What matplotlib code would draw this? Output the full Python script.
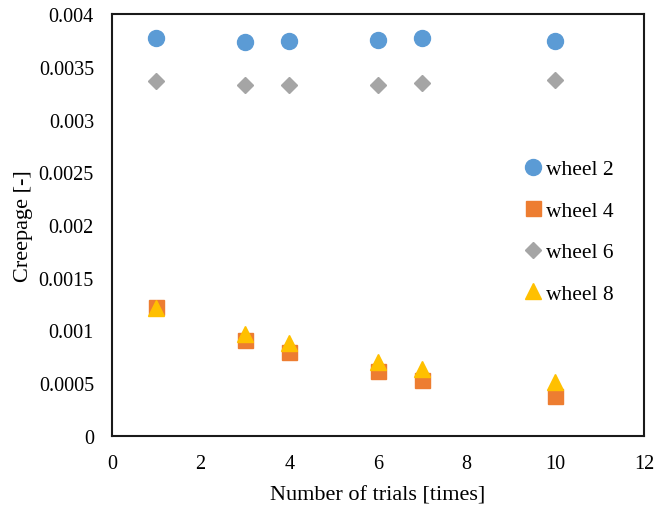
import numpy as np
import matplotlib
matplotlib.use('Agg')
import matplotlib.pyplot as plt

plt.rcParams['font.family'] = ['Liberation Serif', 'DejaVu Serif']

# Trials on the x axis
trials = [1, 3, 4, 6, 7, 10]

# Creepage for each wheel
wheel2 = [0.003770, 0.003738, 0.003744, 0.003757, 0.003773, 0.003747]
wheel4 = [0.001226, 0.000913, 0.000799, 0.000613, 0.000534, 0.000379]
wheel6 = [0.003368, 0.003327, 0.003327, 0.003327, 0.003349, 0.003371]
wheel8 = [0.001213, 0.000967, 0.000879, 0.000704, 0.000632, 0.000515]

x_ticks = [0, 2, 4, 6, 8, 10, 12]
y_ticks = [0, 0.0005, 0.001, 0.0015, 0.002, 0.0025, 0.003, 0.0035, 0.004]
y_labels = ['0', '0.0005', '0.001', '0.0015', '0.002', '0.0025', '0.003', '0.0035', '0.004']

fig = plt.figure(figsize=(6.55, 5.06), dpi=100)
ax = fig.add_axes([112 / 655, 69 / 506, 532 / 655, 422 / 506])

ax.plot(trials, wheel2, 'o', color='#5B9BD5', markersize=11.5, label='wheel 2', linestyle='none')
ax.plot(trials, wheel4, 's', color='#ED7D31', markersize=10.8, label='wheel 4', linestyle='none')
ax.plot(trials, wheel6, 'D', color='#A5A5A5', markersize=8.2, label='wheel 6', linestyle='none')
ax.plot(trials, wheel8, '^', color='#FFC000', markersize=11.3, label='wheel 8', linestyle='none')

ax.set_xlim(0, 12)
ax.set_ylim(0, 0.004)
ax.set_xticks(x_ticks)
ax.set_yticks(y_ticks)
ax.set_yticklabels(y_labels)
ax.tick_params(labelsize=14.5, length=0, pad=13)

for s in ax.spines.values():
    s.set_linewidth(1.5)
    s.set_color('#1a1a1a')

ax.set_xlabel('Number of trials [times]', fontsize=16, labelpad=9)
ax.set_ylabel('Creepage [-]', fontsize=16, labelpad=4)

ax.legend(loc='center left', bbox_to_anchor=(0.771, 0.4846), frameon=False, fontsize=15.5,
          handletextpad=0.1, labelspacing=1.0, handlelength=1.0, borderpad=0,
          borderaxespad=0)

fig.savefig('out.png', dpi=100)
